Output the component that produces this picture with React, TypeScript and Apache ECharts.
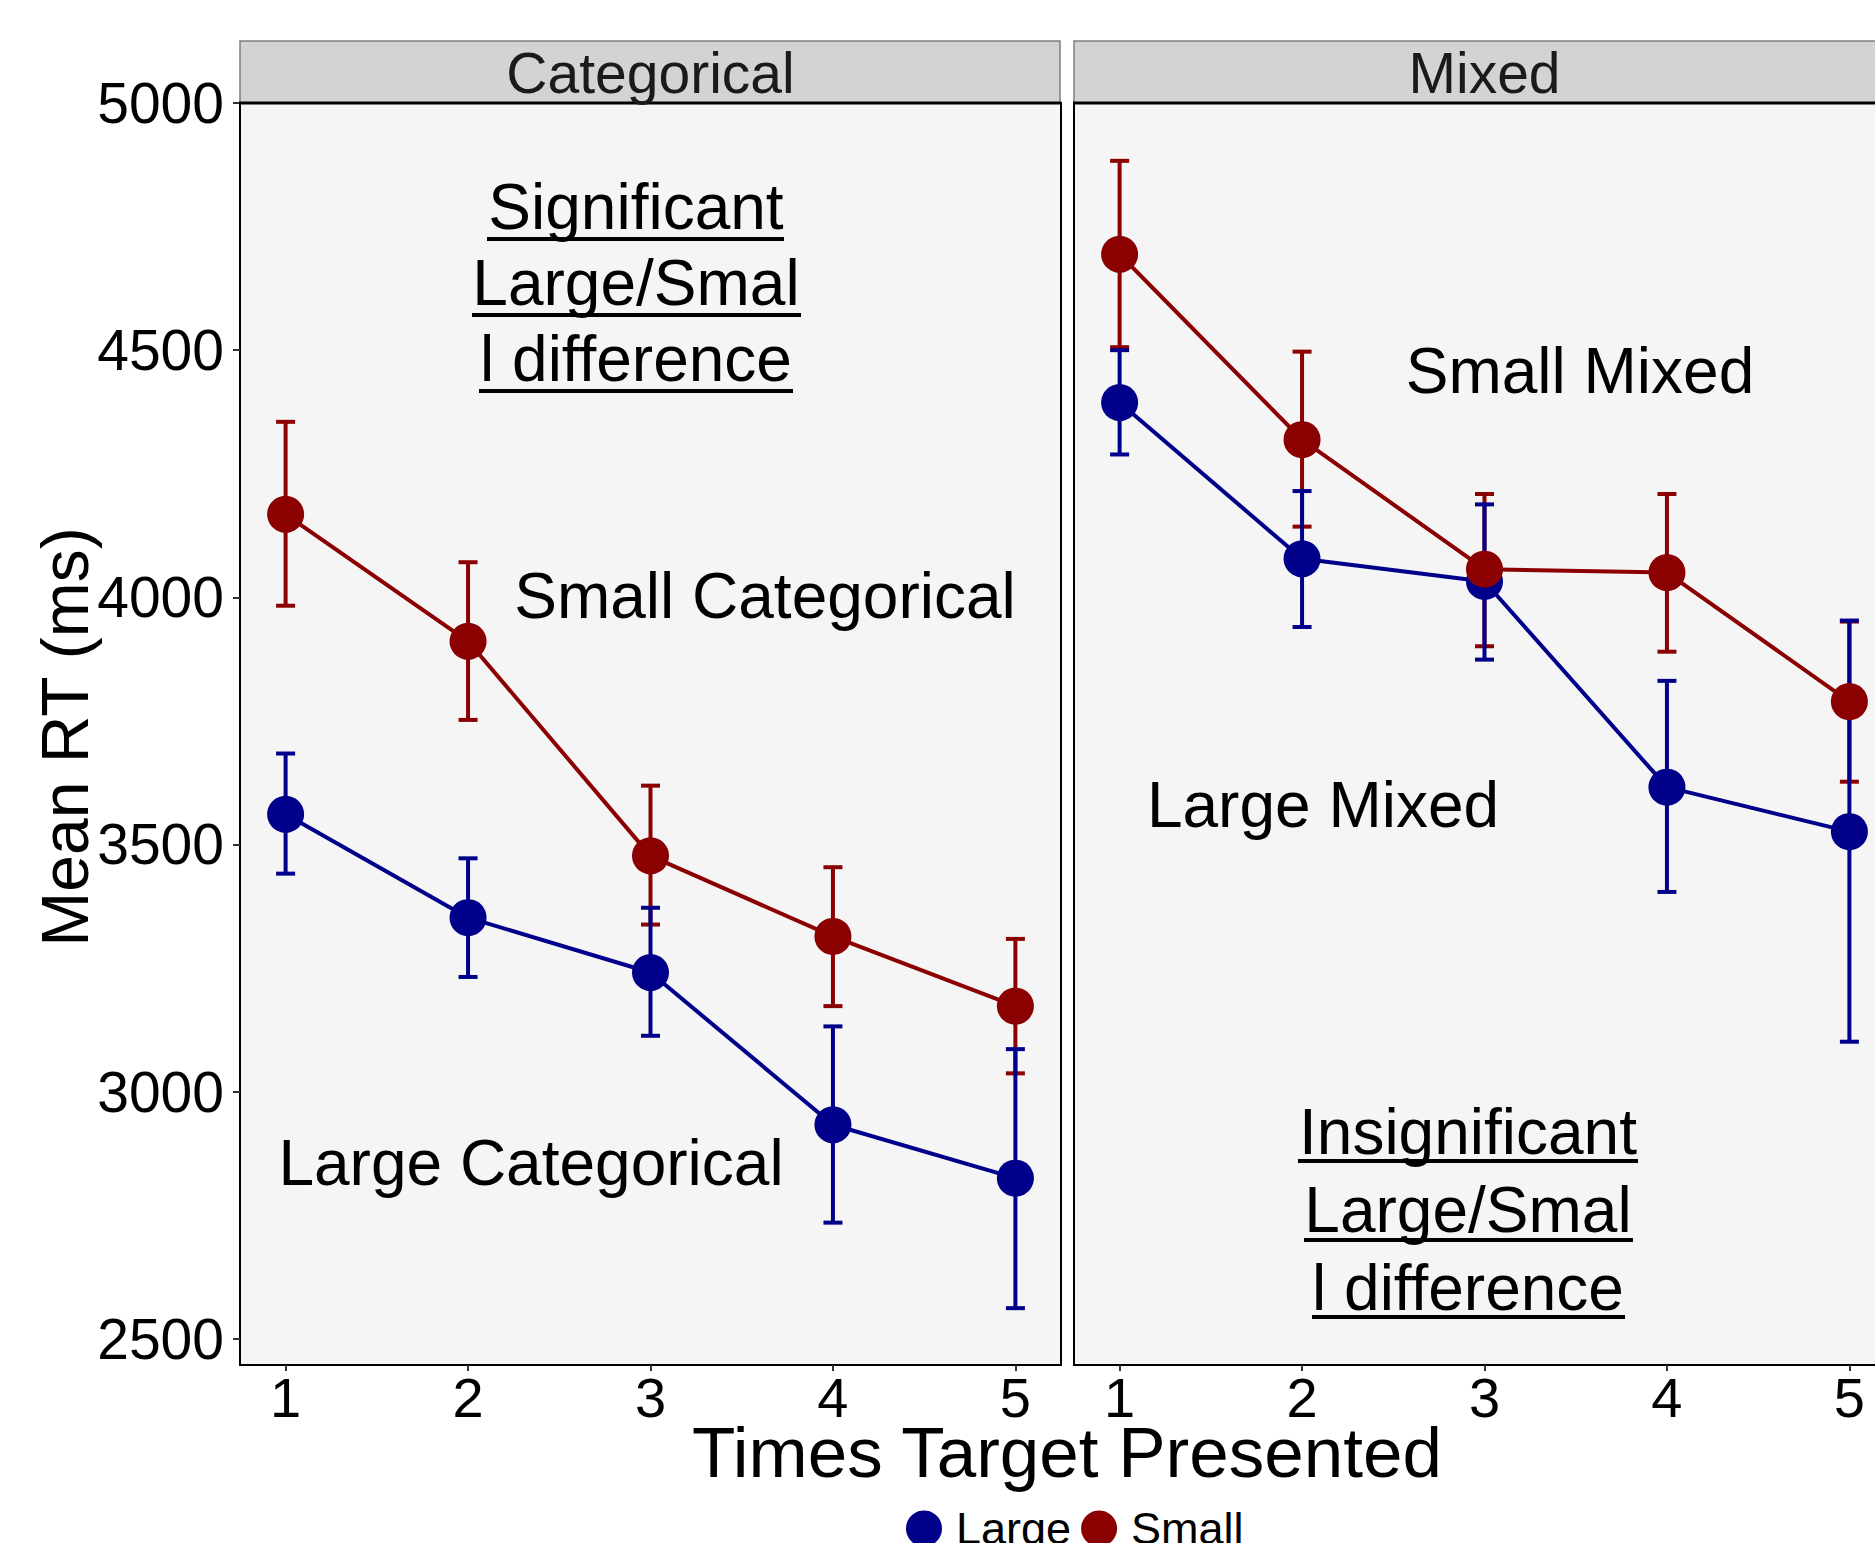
import React, { useEffect, useRef } from "react";
import * as echarts from "echarts";

const FONT = '"Liberation Sans", Arial, Helvetica, sans-serif';

const timesPresented = [1, 2, 3, 4, 5];
const panelNames = ["Categorical", "Mixed"];
const groupNames = ["Large", "Small"];
const yTickValues = [2500, 3000, 3500, 4000, 4500, 5000];

const catLargeMean = [3561, 3352, 3241, 2933, 2825];
const catLargeLow = [3441, 3232, 3113, 2735, 2562];
const catLargeHigh = [3684, 3472, 3372, 3132, 3086];

const catSmallMean = [4168, 3911, 3477, 3314, 3173];
const catSmallLow = [3983, 3752, 3338, 3173, 3037];
const catSmallHigh = [4355, 4071, 3619, 3454, 3309];

const mixLargeMean = [4394, 4078, 4032, 3616, 3526];
const mixLargeLow = [4289, 3940, 3874, 3404, 3101];
const mixLargeHigh = [4500, 4215, 4188, 3831, 3953];

const mixSmallMean = [4694, 4319, 4057, 4050, 3789];
const mixSmallLow = [4506, 4143, 3901, 3890, 3627];
const mixSmallHigh = [4883, 4497, 4209, 4209, 3951];

const BLUE = "#00008B";
const RED = "#8B0000";

function errData(low: number[], high: number[]) {
  return timesPresented.map((x, i) => [x, low[i], high[i]]);
}
function lineData(mean: number[]) {
  return timesPresented.map((x, i) => [x, mean[i]]);
}

function errSeries(name: string, idx: number, color: string, low: number[], high: number[], z: number) {
  return {
    type: "custom",
    name: name + "-err",
    xAxisIndex: idx,
    yAxisIndex: idx,
    z,
    silent: true,
    encode: { x: 0, y: [1, 2] },
    data: errData(low, high),
    renderItem: (params: any, api: any) => {
      const x = api.value(0);
      const lo = api.coord([x, api.value(1)]);
      const hi = api.coord([x, api.value(2)]);
      const hw = 9.5;
      const st = { stroke: color, lineWidth: 4 };
      return {
        type: "group",
        children: [
          { type: "line", shape: { x1: lo[0], y1: lo[1], x2: hi[0], y2: hi[1] }, style: st },
          { type: "line", shape: { x1: lo[0] - hw, y1: lo[1], x2: lo[0] + hw, y2: lo[1] }, style: st },
          { type: "line", shape: { x1: hi[0] - hw, y1: hi[1], x2: hi[0] + hw, y2: hi[1] }, style: st },
        ],
      };
    },
  };
}

function lineSeries(name: string, idx: number, color: string, mean: number[], z: number) {
  return {
    type: "line",
    name,
    xAxisIndex: idx,
    yAxisIndex: idx,
    z,
    data: lineData(mean),
    symbol: "circle",
    symbolSize: 37,
    lineStyle: { color, width: 4 },
    itemStyle: { color },
    emphasis: { disabled: true },
  };
}

function annot(text: string, x: number, y: number, size = 64, align = "center") {
  return {
    type: "text",
    x,
    y,
    z: 100,
    style: {
      text,
      fill: "#000",
      font: `${size}px ${FONT}`,
      textAlign: align,
      textVerticalAlign: "middle",
    },
  };
}

function underline(x1: number, x2: number, y: number) {
  return {
    type: "line",
    z: 100,
    shape: { x1, y1: y, x2, y2: y },
    style: { stroke: "#000", lineWidth: 4 },
  };
}

function xAxisCfg(idx: number) {
  return {
    type: "value",
    gridIndex: idx,
    min: 0.75,
    max: 5.25,
    axisLine: { show: false },
    splitLine: { show: false },
    axisTick: { show: true, customValues: timesPresented, length: 6, lineStyle: { color: "#333", width: 2 } },
    axisLabel: {
      show: true,
      customValues: timesPresented,
      margin: 4,
      color: "#000",
      fontSize: 56,
      fontFamily: FONT,
      formatter: (v: number) => String(v),
    },
  };
}

function yAxisCfg(idx: number) {
  return {
    type: "value",
    gridIndex: idx,
    min: 2447,
    max: 5000,
    axisLine: { show: false },
    splitLine: { show: false },
    axisTick: { show: idx === 0, customValues: yTickValues, length: 7, lineStyle: { color: "#333", width: 2 } },
    axisLabel: {
      show: idx === 0,
      customValues: yTickValues,
      margin: 16,
      color: "#000",
      fontSize: 57,
      fontFamily: FONT,
      formatter: (v: number) => String(v),
    },
  };
}

export default function App() {
  const ref = useRef<HTMLDivElement>(null);
  useEffect(() => {
    if (!ref.current) return;
    const chart = echarts.init(ref.current, undefined, { renderer: "svg" });
    const panelLeft = [240, 1074];
    const panelW = 821;
    const option: any = {
      animation: false,
      backgroundColor: "#fff",
      grid: panelLeft.map((l) => ({
        left: l,
        top: 103,
        width: panelW,
        height: 1262,
        show: true,
        backgroundColor: "#F5F5F5",
        borderColor: "#000",
        borderWidth: 2,
        containLabel: false,
      })),
      xAxis: [xAxisCfg(0), xAxisCfg(1)],
      yAxis: [yAxisCfg(0), yAxisCfg(1)],
      legend: {
        show: true,
        left: 906,
        top: 1506,
        padding: 0,
        itemGap: 10,
        itemWidth: 36,
        itemHeight: 36,
        icon: "circle",
        data: groupNames,
        textStyle: { fontSize: 45, fontFamily: FONT, color: "#000", padding: [0, 0, 0, 9] },
        selectedMode: false,
      },
      series: [
        errSeries("Small", 0, RED, catSmallLow, catSmallHigh, 1),
        errSeries("Large", 0, BLUE, catLargeLow, catLargeHigh, 2),
        errSeries("Small", 1, RED, mixSmallLow, mixSmallHigh, 1),
        errSeries("Large", 1, BLUE, mixLargeLow, mixLargeHigh, 2),
        lineSeries("Large", 0, BLUE, catLargeMean, 3),
        lineSeries("Small", 0, RED, catSmallMean, 4),
        lineSeries("Large", 1, BLUE, mixLargeMean, 3),
        lineSeries("Small", 1, RED, mixSmallMean, 4),
      ],
      graphic: [
        ...panelLeft.map((l) => ({
          type: "rect",
          z: 50,
          shape: { x: l, y: 41, width: panelW - 1, height: 62 },
          style: { fill: "#D3D3D3", stroke: "#7F7F7F", lineWidth: 1.5 },
        })),
        ...panelLeft.map((l) => ({
          type: "line",
          z: 51,
          shape: { x1: l - 1, y1: 103, x2: l + panelW, y2: 103 },
          style: { stroke: "#000", lineWidth: 3 },
        })),
        ...panelNames.map((n, i) => ({
          type: "text",
          z: 52,
          x: panelLeft[i] + panelW / 2,
          y: 73,
          style: {
            text: n,
            fill: "#1A1A1A",
            font: `57px ${FONT}`,
            textAlign: "center",
            textVerticalAlign: "middle",
          },
        })),
        annot("Significant", 636, 207),
        annot("Large/Smal", 636, 283),
        annot("l difference", 636, 359),
        underline(487, 784, 239),
        underline(472, 801, 315),
        underline(479, 793, 391),
        annot("Small Categorical", 765, 596),
        annot("Large Categorical", 531, 1163),
        annot("Small Mixed", 1580, 371),
        annot("Large Mixed", 1323, 805),
        annot("Insignificant", 1468, 1132),
        annot("Large/Smal", 1468, 1210),
        annot("l difference", 1468, 1288),
        underline(1298, 1638, 1161),
        underline(1304, 1633, 1240),
        underline(1312, 1625, 1317),
        {
          type: "text",
          x: 1067,
          y: 1452,
          style: {
            text: "Times Target Presented",
            fill: "#000",
            font: `71px ${FONT}`,
            textAlign: "center",
            textVerticalAlign: "middle",
          },
        },
        {
          type: "text",
          x: 65,
          y: 737,
          rotation: Math.PI / 2,
          style: {
            text: "Mean RT (ms)",
            fill: "#000",
            font: `66px ${FONT}`,
            textAlign: "center",
            textVerticalAlign: "middle",
          },
        },
      ],
    };
    chart.setOption(option);
    return () => chart.dispose();
  }, []);
  return (
    <div
      style={{
        position: "absolute",
        left: 0,
        top: 0,
        width: 1875,
        height: 1543,
        overflow: "hidden",
        background: "#fff",
      }}
    >
      <div ref={ref} style={{ width: 1910, height: 1543 }} />
    </div>
  );
}
